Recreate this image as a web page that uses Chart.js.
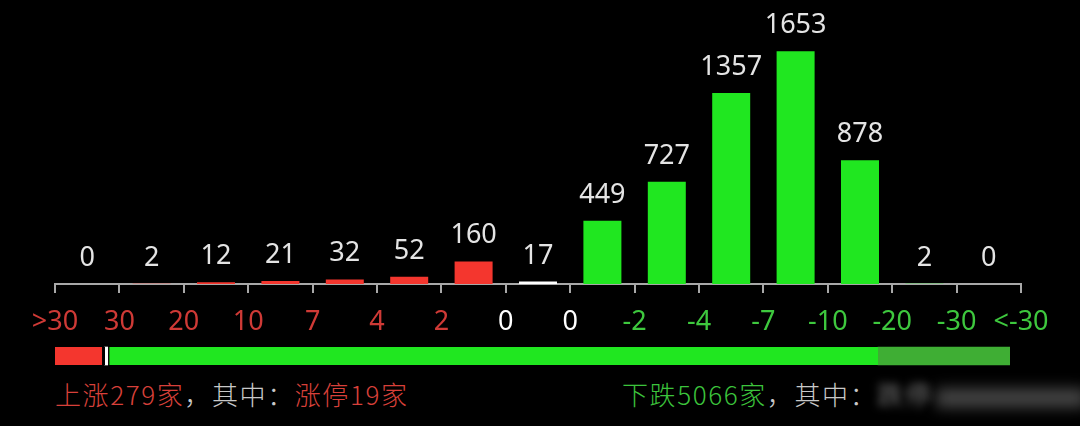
<!DOCTYPE html>
<html>
<head>
<meta charset="utf-8">
<script src="https://cdn.jsdelivr.net/npm/chart.js@4"></script>
<style>
  html, body { margin: 0; padding: 0; background: #000; }
  #wrap { position: relative; width: 1080px; height: 426px; background: #000; overflow: hidden; }
  #dist { position: absolute; left: 0; top: 0; }
  #ratio { position: absolute; left: 0; top: 340px; }
  .note { position: absolute; top: 375px; font-family: "Noto Sans CJK SC", sans-serif; font-size: 26px;
          font-weight: 300; letter-spacing: 1.6px; white-space: nowrap; color: #c8c8c8; }
  .up { color: #d8403a; }
  .down { color: #3cc43c; }
  .smudge { filter: blur(4px); color: #a0a0a0; }
  .blot { display: inline-block; width: 150px; height: 20px; margin-left: 4px; vertical-align: middle;
          background: rgba(190, 190, 190, 0.35); filter: blur(7px); }
</style>
</head>
<body>
<div id="wrap">
  <canvas id="dist" width="1080" height="345"></canvas>
  <canvas id="ratio" width="1080" height="32"></canvas>
  <div class="note" style="left:55px"><span class="up">上涨279家</span>，其中：<span class="up">涨停19家</span></div>
  <div class="note" style="left:622px"><span class="down">下跌5066家</span>，其中：<span class="down smudge">跌停</span><span class="blot"></span></div>
</div>
<script>
// stock counts per change bucket, left (big gains) to right (big losses)
const buckets = ['>30', '30~20', '20~10', '10~7', '7~4', '4~2', '2~0', '0', '0~-2', '-2~-4', '-4~-7', '-7~-10', '-10~-20', '-20~-30', '<-30'];
const counts = [0, 2, 12, 21, 32, 52, 160, 17, 449, 727, 1357, 1653, 878, 2, 0];
const tickLabels = ['>30', '30', '20', '10', '7', '4', '2', '0', '0', '-2', '-4', '-7', '-10', '-20', '-30', '<-30'];

// bottom ratio bar: up, flat, down, heavy down
const ratioNames = ['上涨', '平盘', '下跌', '大跌'];
const ratioValues = [279, 17, 4325, 741];

const RED = '#f4362e';
const GREEN = '#20e720';
const WHITE = '#ffffff';

const barColor = (i) => {
  if (i < 7) return RED;
  if (i === 7) return WHITE;
  return GREEN;
};

const tickColor = (i) => {
  if (i < 7) return '#cf3a36';
  if (i < 9) return '#ffffff';
  return '#3ec83e';
};

const valueLabels = {
  id: 'valueLabels',
  afterDatasetsDraw(chart) {
    const { ctx } = chart;
    const meta = chart.getDatasetMeta(0);
    ctx.save();
    ctx.font = '27px "Noto Sans", sans-serif';
    ctx.fillStyle = '#e4e4e4';
    ctx.textAlign = 'center';
    ctx.textBaseline = 'alphabetic';
    meta.data.forEach((bar, i) => {
      ctx.fillText(String(counts[i]), bar.x, bar.y - 18);
    });
    ctx.restore();
  },
};

/* eslint-disable */
const distChart = new Chart('dist', {
  /* eslint-enable */
  type: 'bar',
  data: {
    datasets: [
      {
        label: '家数',
        data: counts.map((c, i) => ({ x: i + 0.5, y: c })),
        backgroundColor: counts.map((c, i) => barColor(i)),
        barPercentage: 0.59,
        categoryPercentage: 1,
      },
    ],
  },
  options: {
    responsive: false,
    animation: false,
    layout: { padding: { left: 55, right: 59, top: 0, bottom: 0 } },
    plugins: { legend: { display: false }, tooltip: { enabled: false } },
    scales: {
      x: {
        type: 'linear',
        min: 0,
        max: 15,
        offset: false,
        afterFit: (scale) => { scale.height = 61; },
        border: { display: true, color: '#a8a8a8', width: 2 },
        grid: { display: true, offset: false, drawOnChartArea: false, drawTicks: true, tickLength: 9, color: '#a8a8a8', lineWidth: 2 },
        ticks: {
          stepSize: 1,
          autoSkip: false,
          maxRotation: 0,
          padding: 13,
          font: { family: '"Noto Sans", sans-serif', size: 27 },
          color: (ctx) => tickColor(ctx.index),
          callback: (v) => tickLabels[v],
        },
      },
      y: { display: false, min: 0, max: 2017 },
    },
  },
  plugins: [valueLabels],
});

const ratioColors = [RED, WHITE, GREEN, '#3fae34'];
const ratioBorders = [
  { left: 0, right: 3, top: 0, bottom: 0 },
  0,
  { left: 2, right: 0, top: 0, bottom: 0 },
  0,
];

/* eslint-disable */
const ratioChart = new Chart('ratio', {
  /* eslint-enable */
  type: 'bar',
  data: {
    labels: ['全部'],
    datasets: ratioValues.map((v, i) => ({
      label: ratioNames[i],
      data: [v],
      backgroundColor: ratioColors[i],
      borderColor: '#000000',
      borderWidth: ratioBorders[i],
      borderSkipped: false,
      barThickness: 18,
    })),
  },
  options: {
    indexAxis: 'y',
    responsive: false,
    animation: false,
    layout: { padding: { left: 55, right: 70, top: 0, bottom: 0 } },
    plugins: { legend: { display: false }, tooltip: { enabled: false } },
    scales: {
      x: { stacked: true, display: false, min: 0, max: ratioValues.reduce((a, b) => a + b, 0) },
      y: { stacked: true, display: false },
    },
  },
});
</script>
</body>
</html>
